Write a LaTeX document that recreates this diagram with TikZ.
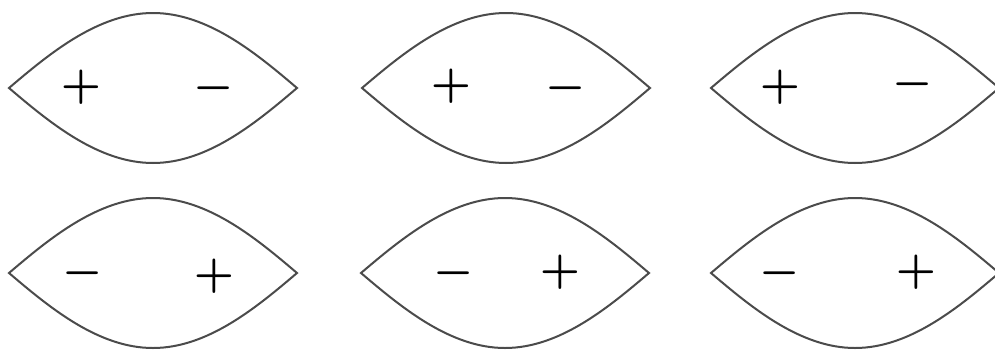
\documentclass[tikz,border=0pt]{standalone}
\usepackage{amsmath,amssymb}
\usepackage{graphicx}
\usepackage{xcolor}
\usepackage{tikz}
\definecolor{crim}{RGB}{75,75,75}
\newcommand{\chg}[1]{\scalebox{4.5}{$\boldsymbol{#1}$}}

\begin{document}
\begin{tikzpicture}[x=1pt,y=-1pt,
  lens/.style={draw=crim,line width=2pt,line join=miter},
  sgn/.style={inner sep=0pt},
]
\useasboundingbox (0,0) rectangle (995,351);
% the six lenses
\foreach \cx/\cy in {153/88,506/88,855/88,153/273,505/273,855/273}
  \draw[lens] (\cx-144,\cy) .. controls +(40,-34) and +(-55,0) .. (\cx,\cy-75)
    .. controls +(55,0) and +(-40,-34) .. (\cx+144,\cy)
    .. controls +(-40,34) and +(55,0) .. (\cx,\cy+75)
    .. controls +(-55,0) and +(40,34) .. cycle;
% charges, top row
\node[sgn] (p1) at (81,87) {\chg{+}};
\node[sgn] (m1) at (214,88) {\chg{-}};
\node[sgn] (p2) at (451,86) {\chg{+}};
\node[sgn] (m2) at (566,88) {\chg{-}};
\node[sgn] (p3) at (780,87) {\chg{+}};
\node[sgn] (m3) at (913,84) {\chg{-}};
% charges, bottom row
\node[sgn] (m4) at (83,273) {\chg{-}};
\node[sgn] (p4) at (214,276) {\chg{+}};
\node[sgn] (m5) at (454,273) {\chg{-}};
\node[sgn] (p5) at (560,272) {\chg{+}};
\node[sgn] (m6) at (780,273) {\chg{-}};
\node[sgn] (p6) at (916,272) {\chg{+}};
\end{tikzpicture}
\end{document}
